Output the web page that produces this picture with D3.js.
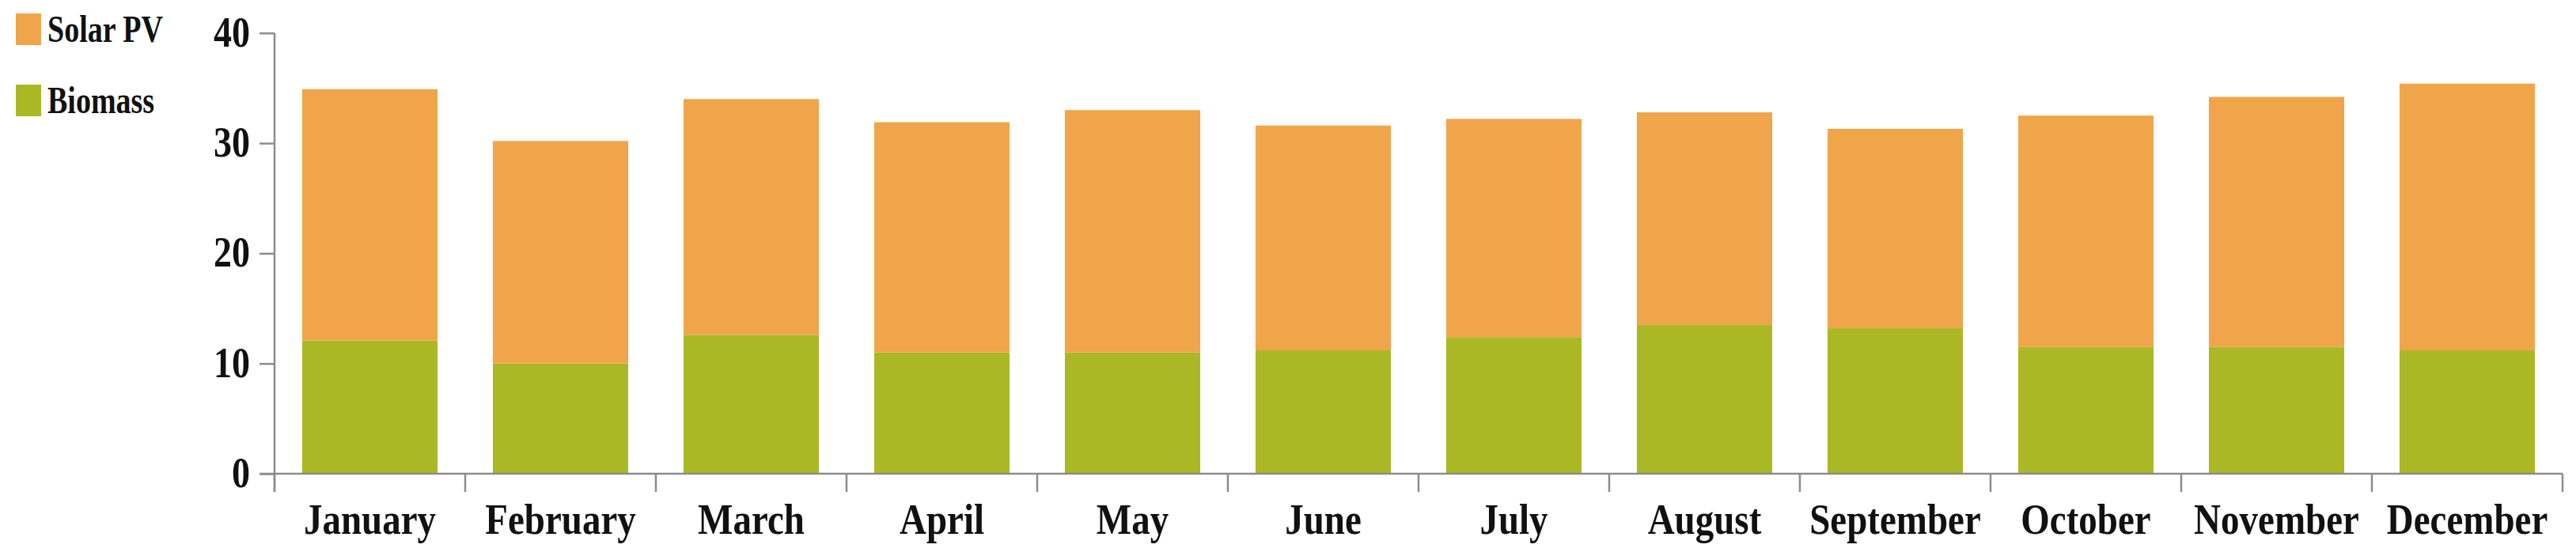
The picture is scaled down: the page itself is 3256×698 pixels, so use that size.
<!DOCTYPE html>
<meta charset="utf-8">
<head>
<style>
body { margin: 0; background: #fff; }
text {
  font-family: "Liberation Serif", "Times New Roman", serif;
  font-weight: bold;
  fill: #111;
}
.axis path, .axis line {
  stroke: #8c8c8c;
  stroke-width: 2.5px;
}
</style>
<script src="https://cdn.jsdelivr.net/npm/d3@7"></script>
</head>
<body>
<svg width="3256" height="698"></svg>
<script>

// monthly energy, stacked: biomass at the bottom, solar PV on top
var months = ["January", "February", "March", "April", "May", "June",
              "July", "August", "September", "October", "November", "December"];
var biomass = [12.1, 10.0, 12.6, 11.0, 11.0, 11.2, 12.4, 13.5, 13.2, 11.5, 11.5, 11.2];
var solar   = [22.8, 20.2, 21.4, 20.9, 22.0, 20.4, 19.8, 19.3, 18.1, 21.0, 22.7, 24.2];
var yTicks  = [0, 10, 20, 30, 40];

var seriesNames = ["Biomass", "Solar PV"];
var colors = { "Biomass": "#abb826", "Solar PV": "#f0a54b" };

var svg = d3.select("svg");

var x = d3.scaleBand()
    .domain(months)
    .range([347, 3239])
    .paddingInner(0.29)
    .paddingOuter(0.145);

var y = d3.scaleLinear()
    .domain([0, 40])
    .range([599, 41.7]);

// build table for the stack layout
var table = months.map(function(m, i) {
  return { month: m, "Biomass": biomass[i], "Solar PV": solar[i] };
});

var stack = d3.stack().keys(seriesNames);
var layers = stack(table);

svg.append("g")
  .selectAll("g")
  .data(layers)
  .enter().append("g")
    .attr("fill", function(d) { return colors[d.key]; })
  .selectAll("rect")
  .data(function(d) { return d; })
  .enter().append("rect")
    .attr("x", function(d) { return x(d.data.month); })
    .attr("y", function(d) { return y(d[1]); })
    .attr("width", x.bandwidth())
    .attr("height", function(d) { return y(d[0]) - y(d[1]); });

// y axis
var yAxis = svg.append("g")
    .attr("class", "axis")
    .attr("transform", "translate(347,0)")
    .call(d3.axisLeft(y).tickValues(yTicks).tickSize(19).tickSizeOuter(0).tickPadding(12));

yAxis.selectAll("text")
    .attr("font-size", 46)
    .attr("transform", "scale(1,1.2)")
    .attr("y", function(d) { return 0; })
    .attr("dy", "0.3em");

// extend y axis line down to the bottom of the x ticks
yAxis.select(".domain").attr("d", "M0," + y(40) + "V622");

// x axis - labels centered under bars, ticks at band boundaries
var xAxis = svg.append("g")
    .attr("class", "axis")
    .attr("transform", "translate(0," + y(0) + ")")
    .call(d3.axisBottom(x).tickSize(0).tickSizeOuter(0).tickPadding(0));

xAxis.select(".domain").attr("d", "M328,0H" + x.range()[1]);

xAxis.selectAll(".tick text")
    .attr("font-size", 47)
    .attr("y", 0)
    .attr("dy", 0)
    .attr("transform", "translate(0,76) scale(1,1.18)");

var bounds = months.map(function(m) { return x(m) - x.step() * x.paddingInner() / 2; });
bounds.push(x.range()[1]);

xAxis.selectAll(".bound")
  .data(bounds)
  .enter().append("line")
    .attr("class", "bound")
    .attr("x1", function(d) { return d; })
    .attr("x2", function(d) { return d; })
    .attr("y1", 0)
    .attr("y2", 23);

// legend, top left
var legend = svg.append("g")
  .selectAll("g")
  .data(["Solar PV", "Biomass"])
  .enter().append("g")
    .attr("transform", function(d, i) { return "translate(20," + (17 + i * 90) + ")"; });

legend.append("rect")
    .attr("width", 32)
    .attr("height", 40)
    .attr("fill", function(d) { return colors[d]; });

legend.append("text")
    .attr("transform", "translate(40,36) scale(1,1.3)")
    .attr("font-size", 38)
    .text(function(d) { return d; });

</script>
</body>
